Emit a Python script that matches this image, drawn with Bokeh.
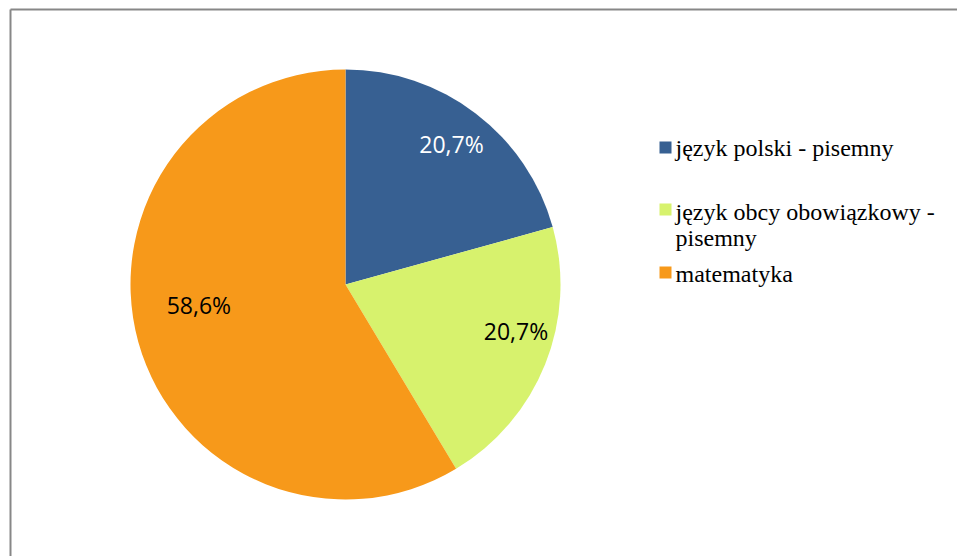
import math
from bokeh.plotting import figure
from bokeh.models import ColumnDataSource, Range1d
from bokeh.core.properties import value
from bokeh.embed import file_html
from bokeh.resources import INLINE

# ---- data ----
categories = ["język polski - pisemny", "język obcy obowiązkowy -\npisemny", "matematyka"]
shares = [20.7, 20.7, 58.6]
labels = ["20,7%", "20,7%", "58,6%"]
colors = ["#376092", "#D7F26D", "#F7991A"]
label_colors = ["#FFFFFF", "#000000", "#000000"]

# ---- layout (pixels, screenshot coords) ----
W, H = 957, 556
def px(x):
    return x
def py(y):
    return H - y

cx, cy, R = px(345), py(284), 215
label_r = 0.814 * R
label_offsets = [(0, -1), (8, -18), (22, -26)]   # screen px tweaks (dx, dy down)

p = figure(width=W, height=H, output_backend="svg", toolbar_location=None,
           x_range=Range1d(0, W), y_range=Range1d(0, H), min_border=0,
           outline_line_color=None)
p.axis.visible = False
p.grid.visible = False
p.background_fill_color = "white"
p.border_fill_color = "white"

total = sum(shares)
starts, ends, mids = [], [], []
cum = 0.0
for s in shares:
    a0 = math.pi / 2 - 2 * math.pi * (cum + s) / total
    a1 = math.pi / 2 - 2 * math.pi * cum / total
    starts.append(a0)
    ends.append(a1)
    mids.append((a0 + a1) / 2)
    cum += s

src = ColumnDataSource(dict(start=starts, end=ends, color=colors))
p.wedge(x=cx, y=cy, radius=R, start_angle="start", end_angle="end",
        fill_color="color", line_color=None, source=src)

lx, ly = [], []
for m, (dx, dy) in zip(mids, label_offsets):
    lx.append(cx + label_r * math.cos(m) + dx)
    ly.append(cy + label_r * math.sin(m) - dy)
lsrc = ColumnDataSource(dict(x=lx, y=ly, t=labels, c=label_colors))
p.text(x="x", y="y", text="t", text_color="c", source=lsrc,
       text_font=value("Open Sans"), text_font_size="23px",
       text_align="center", text_baseline="middle")

# ---- legend (manual) ----
sq_x = px(665)
sq_y = [py(147), py(209), py(272)]
p.rect(x=[sq_x] * 3, y=sq_y, width=12, height=12, fill_color=colors, line_color=None)

first_baselines = [py(147), py(211), py(273)]
line_step = 26
tx, ty, tt = [], [], []
for cat, b in zip(categories, first_baselines):
    for i, line in enumerate(cat.split("\n")):
        tx.append(px(675))
        ty.append(b - i * line_step)
        tt.append(line)
p.text(x=tx, y=ty, text=tt, text_color="#000000",
       text_font=value("Liberation Serif"), text_font_size="24px",
       text_align="left", text_baseline="alphabetic")

# ---- frame (top and left visible edges) ----
fx, fy = px(10), py(9)
p.segment(x0=[fx, fx], y0=[fy, fy], x1=[W + 10, fx], y1=[fy, -10],
          line_color="#878787", line_width=2)

open("out.html", "w").write(file_html(p, INLINE))
